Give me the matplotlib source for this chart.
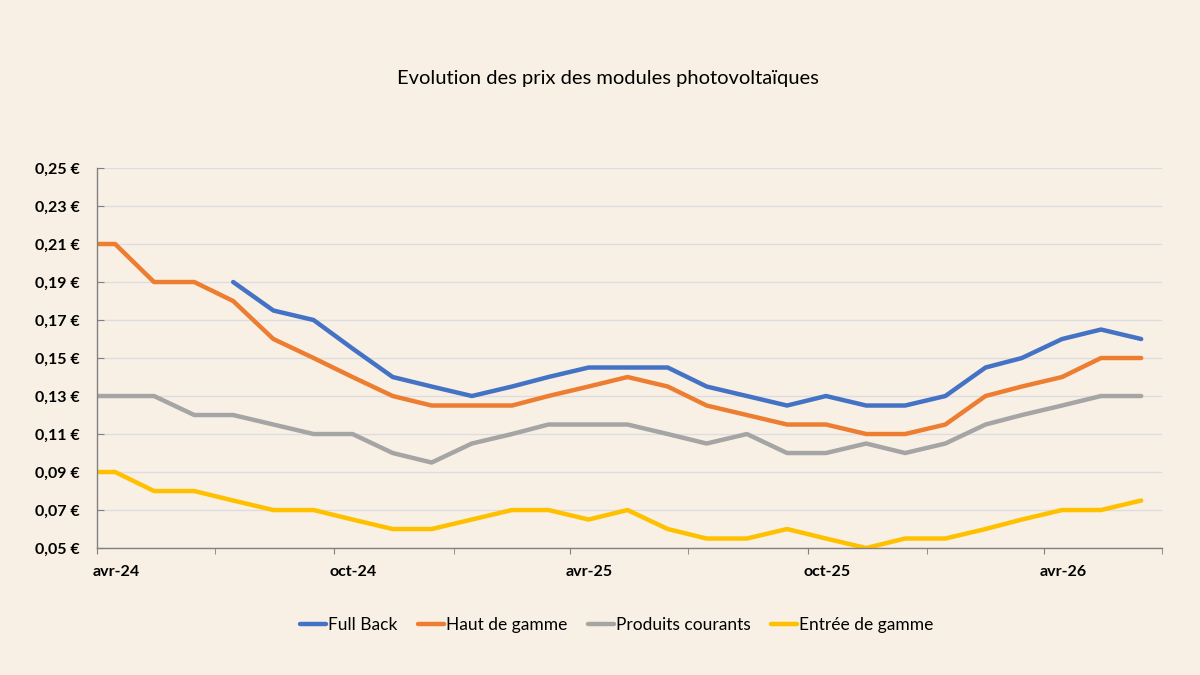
import numpy as np
import pandas as pd
import matplotlib
matplotlib.use("Agg")
import matplotlib.pyplot as plt
import matplotlib.dates as mdates
import matplotlib.transforms as mtransforms
from matplotlib.ticker import FuncFormatter, FixedLocator

plt.rcParams['font.family'] = ['Lato', 'DejaVu Sans']

# data (first point at start of April, then mid-month)
dates = ["2024-04-01", "2024-04-15", "2024-05-15", "2024-06-15", "2024-07-15",
         "2024-08-15", "2024-09-15", "2024-10-15", "2024-11-15", "2024-12-15",
         "2025-01-15", "2025-02-15", "2025-03-15", "2025-04-15", "2025-05-15",
         "2025-06-15", "2025-07-15", "2025-08-15", "2025-09-15", "2025-10-15",
         "2025-11-15", "2025-12-15", "2026-01-15", "2026-02-15", "2026-03-15",
         "2026-04-15", "2026-05-15", "2026-06-15"]
full_back = [np.nan, np.nan, np.nan, np.nan, 0.19, 0.175, 0.17, 0.155, 0.14, 0.135,
             0.13, 0.135, 0.14, 0.145, 0.145, 0.145, 0.135, 0.13, 0.125, 0.13,
             0.125, 0.125, 0.13, 0.145, 0.15, 0.16, 0.165, 0.16]
haut_gamme = [0.21, 0.21, 0.19, 0.19, 0.18, 0.16, 0.15, 0.14, 0.13, 0.125,
              0.125, 0.125, 0.13, 0.135, 0.14, 0.135, 0.125, 0.12, 0.115, 0.115,
              0.11, 0.11, 0.115, 0.13, 0.135, 0.14, 0.15, 0.15]
produits_courants = [0.13, 0.13, 0.13, 0.12, 0.12, 0.115, 0.11, 0.11, 0.10, 0.095,
                     0.105, 0.11, 0.115, 0.115, 0.115, 0.11, 0.105, 0.11, 0.10, 0.10,
                     0.105, 0.10, 0.105, 0.115, 0.12, 0.125, 0.13, 0.13]
entree_gamme = [0.09, 0.09, 0.08, 0.08, 0.075, 0.07, 0.07, 0.065, 0.06, 0.06,
                0.065, 0.07, 0.07, 0.065, 0.07, 0.06, 0.055, 0.055, 0.06, 0.055,
                0.05, 0.055, 0.055, 0.06, 0.065, 0.07, 0.07, 0.075]
y_ticks = [0.05, 0.07, 0.09, 0.11, 0.13, 0.15, 0.17, 0.19, 0.21, 0.23, 0.25]

x = pd.to_datetime(dates)
bg = '#F8F0E4'

fig = plt.figure(figsize=(12, 6.75), dpi=100, facecolor=bg)
ax = fig.add_axes([0.0808, 0.1881, 0.8875, 0.563])
ax.set_facecolor(bg)

lw = 3.2
ax.plot(x, full_back, color='#4472C4', lw=lw, label='Full Back', solid_capstyle='round')
ax.plot(x, haut_gamme, color='#ED7D31', lw=lw, label='Haut de gamme', solid_capstyle='round')
ax.plot(x, produits_courants, color='#A5A5A5', lw=lw, label='Produits courants', solid_capstyle='round')
ax.plot(x, entree_gamme, color='#FFC000', lw=lw, label='Entrée de gamme', solid_capstyle='round')

ax.set_ylim(0.05, 0.25)
ax.yaxis.set_major_locator(FixedLocator(y_ticks))
ax.yaxis.set_major_formatter(FuncFormatter(lambda v, p: f"{v:.2f} €".replace('.', ',')))
ax.set_xlim(pd.Timestamp("2024-04-01"), pd.Timestamp("2026-07-01"))

ax.xaxis.set_major_locator(mdates.MonthLocator(bymonth=[4, 10]))
ax.xaxis.set_major_formatter(FuncFormatter(
    lambda v, p: {4: 'avr', 10: 'oct'}[mdates.num2date(v).month] + mdates.num2date(v).strftime('-%y')))
ax.xaxis.set_minor_locator(mdates.MonthLocator(bymonth=[1, 4, 7, 10]))

ax.grid(axis='y', color='#DCDCE2', lw=1)
ax.set_axisbelow(True)
for s in ['top', 'right']:
    ax.spines[s].set_visible(False)
for s in ['left', 'bottom']:
    ax.spines[s].set_color('#808080')
    ax.spines[s].set_linewidth(1)

ax.tick_params(axis='y', direction='in', length=5, color='#808080', pad=12.5,
               labelsize=11.5, labelcolor='black')
ax.tick_params(axis='x', which='both', direction='out', length=4, color='#808080',
               pad=8, labelsize=11.5, labelcolor='black')
for lab in ax.get_yticklabels() + ax.get_xticklabels():
    lab.set_fontweight('bold')
offset = mtransforms.ScaledTranslation(0.19, 0, fig.dpi_scale_trans)
for lab in ax.get_xticklabels():
    lab.set_transform(lab.get_transform() + offset)

fig.text(0.507, 0.884, 'Evolution des prix des modules photovoltaïques',
         ha='center', va='center', fontsize=14.5, color='black')

fig.legend(loc='center', bbox_to_anchor=(0.514, 0.074), ncol=4, frameon=False,
           fontsize=12.5, handlelength=1.5, handletextpad=0.1, columnspacing=1.2)

fig.savefig('out.png', dpi=100, facecolor=bg)
